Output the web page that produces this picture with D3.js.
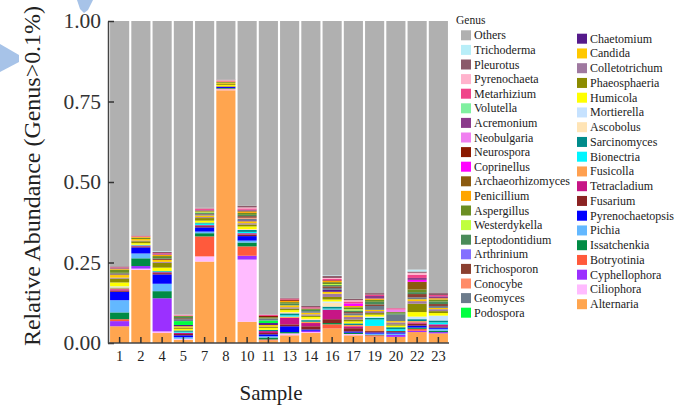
<!DOCTYPE html>
<html>
<head>
<meta charset="utf-8">
<script src="https://cdn.jsdelivr.net/npm/d3@7"></script>
<style>
body { margin: 0; background: #fff; }
</style>
</head>
<body>
<div id="chart"></div>
<script>
// sample ids on the x axis
var samples = ["1","2","4","5","7","8","10","11","13","14","16","17","19","20","22","23"];

// relative abundance per genus, one value per sample
var others            = [.762,.666,.715,.912,.580,.182,.574,.912,.860,.885,.790,.863,.845,.892,.772,.845];
var trichoderma       = [0,0,.002,0,0,0,0,0,0,0,.002,0,0,0,.006,0];
var pleurotus         = [.003,.002,.004,0,.002,.002,.005,0,.002,.004,.006,.004,.005,0,.004,.006];
var pyrenochaeta      = [0,0,0,.002,.002,.002,.003,0,0,0,.003,.004,0,0,.006,0];
var metarhizium       = [.002,.002,.003,.002,.003,.002,.004,.004,.003,.004,.004,.006,.004,.004,.010,.004];
var volutella         = [0,0,0,0,0,0,0,0,0,0,0,0,0,0,0,0];
var acremonium        = [.002,0,.002,0,.002,0,.003,0,0,0,0,0,.008,0,.006,.006];
var neobulgaria       = [0,0,0,0,0,0,0,0,0,0,0,0,0,.008,0,0];
var neurospora        = [0,0,0,0,0,0,0,.004,.004,0,.002,0,0,0,0,0];
var coprinellus       = [0,0,0,0,0,0,0,0,0,0,0,.008,0,0,.006,0];
var archaeorhizomyces = [0,0,0,0,0,0,.003,0,0,0,0,0,0,0,.024,0];
var penicillium       = [.003,.003,.004,0,.002,.002,.004,0,.004,0,.004,.004,.004,0,0,.004];
var aspergillus       = [.010,.004,.006,.003,.003,.003,.006,.004,.005,.004,.006,.006,.006,.004,.008,.006];
var westerdykella     = [0,0,0,0,.002,0,0,0,0,0,.003,.004,0,0,0,0];
var leptodontidium    = [.002,0,.002,.004,.003,0,.004,0,.005,.004,.004,.005,.008,.004,.006,.008];
var arthrinium        = [0,0,0,0,0,0,0,0,0,0,0,0,0,0,0,0];
var trichosporon      = [.003,0,.004,.003,.002,0,.005,0,0,0,.005,.004,.005,0,.010,.006];
var conocybe          = [0,0,0,0,0,0,.003,0,0,0,0,0,0,0,0,0];
var geomyces          = [.002,0,0,.006,.003,0,.005,.006,0,.005,.006,.006,.012,.020,.006,.006];
var podospora         = [0,0,0,.012,0,0,0,.008,0,0,0,0,0,0,0,0];
var chaetomium        = [0,0,0,.004,0,0,.003,.006,0,0,.006,0,0,0,0,0];
var candida           = [.008,.005,.006,.004,.005,.003,.006,.005,.006,.005,.006,.005,.004,.004,.006,.004];
var colletotrichum    = [.003,.002,.003,0,.003,0,.004,0,.004,.004,.010,.008,.006,.006,.008,.006];
var phaeosphaeria     = [.012,.006,.015,.004,.008,.003,.006,.004,.005,.004,.008,.006,.005,.004,.026,.006];
var humicola          = [.012,.005,.010,.005,.006,.004,.008,.006,.006,.006,.006,.006,.006,.005,.014,.008];
var mortierella       = [.002,0,0,0,0,0,0,0,0,0,.004,0,.004,0,.008,.015];
var ascobolus         = [.002,0,0,0,0,0,.003,0,.004,.004,.012,0,0,0,0,0];
var sarcinomyces      = [.002,0,.002,.004,.003,0,.006,.004,.006,.005,.006,.005,.005,.006,.006,.006];
var bionectria        = [0,.002,.002,.003,.005,0,.004,0,.004,0,.003,0,.020,.006,0,.006];
var fusicolla         = [.003,0,0,0,0,0,0,0,.004,.004,0,.004,.016,0,.004,0];
var tetracladium      = [.004,.003,.003,.004,.003,0,.004,.006,.020,.010,.030,.006,0,0,.004,.006];
var fusarium          = [.004,.003,.004,.004,.004,.002,.005,.004,.006,.010,.012,.010,.004,.004,.006,.004];
var pyrenochaetopsis  = [.026,.019,.029,.006,.013,.003,.014,.006,.018,.004,0,.004,.004,.004,.006,.004];
var pichia            = [.038,.015,.023,.005,.005,0,.006,.004,0,0,0,0,.004,.004,0,.006];
var issatchenkia      = [.021,.024,.022,0,.010,.002,.012,.006,.004,0,.004,.004,.001,0,.004,.004];
var botryotinia       = [.006,0,0,0,.062,.002,.029,.003,0,0,.013,0,.004,0,.006,0];
var cyphellophora     = [.016,.008,.103,0,0,0,.012,0,0,.004,0,0,0,.006,.004,.004];
var ciliophora        = [0,.004,.005,.003,.016,.003,.193,0,.006,.003,0,.004,0,0,0,0];
var alternaria        = [.052,.227,.031,.010,.253,.785,.066,.008,.024,.031,.045,.024,.020,.019,.034,.030];

// legend order (top of the stack first)
var genera = ["Others","Trichoderma","Pleurotus","Pyrenochaeta","Metarhizium","Volutella",
  "Acremonium","Neobulgaria","Neurospora","Coprinellus","Archaeorhizomyces","Penicillium",
  "Aspergillus","Westerdykella","Leptodontidium","Arthrinium","Trichosporon","Conocybe",
  "Geomyces","Podospora","Chaetomium","Candida","Colletotrichum","Phaeosphaeria","Humicola",
  "Mortierella","Ascobolus","Sarcinomyces","Bionectria","Fusicolla","Tetracladium","Fusarium",
  "Pyrenochaetopsis","Pichia","Issatchenkia","Botryotinia","Cyphellophora","Ciliophora","Alternaria"];

var colors = ["#b0b0b0","#b8eef8","#8b5a6a","#ffb3cc","#f0458a","#80f0a0",
  "#8b3a8b","#f080f0","#8b1a00","#ff00ff","#8b5a10","#ffa500",
  "#6b8e23","#c0ff3e","#4a8b5a","#8470ff","#8b4030","#ff8c69",
  "#6c7b8b","#00ff40","#551a8b","#ffc800","#9f79a0","#8b8b00","#ffff00",
  "#c6e2ff","#ffe4b5","#008b8b","#00f5ff","#ffa050","#c71585","#8b2323",
  "#0000ff","#63b8ff","#008b45","#ff5a3c","#9b30ff","#ffbbff","#ffa54f"];

var series = [others,trichoderma,pleurotus,pyrenochaeta,metarhizium,volutella,
  acremonium,neobulgaria,neurospora,coprinellus,archaeorhizomyces,penicillium,
  aspergillus,westerdykella,leptodontidium,arthrinium,trichosporon,conocybe,
  geomyces,podospora,chaetomium,candida,colletotrichum,phaeosphaeria,humicola,
  mortierella,ascobolus,sarcinomyces,bionectria,fusicolla,tetracladium,fusarium,
  pyrenochaetopsis,pichia,issatchenkia,botryotinia,cyphellophora,ciliophora,alternaria];

var yTicks = [0, 0.25, 0.5, 0.75, 1];

var w = 675, h = 407;
var serif = "'Liberation Serif','Times New Roman',serif";

var svg = d3.select("#chart").append("svg")
  .attr("width", w).attr("height", h)
  .style("background", "#fff");

// little blue marks in the corner of the scan
svg.append("path").attr("d", "M0,44 L19,55 L19,62 L0,72 Z").attr("fill", "#a7c3e8");
svg.append("path").attr("d", "M77,0 L93,0 L88,10 L84,13 L80,9 Z").attr("fill", "#a7c3e8");

var colorOf = {};
genera.forEach((g, i) => colorOf[g] = colors[i]);

var rows = samples.map((s, i) => {
  var r = {sample: s};
  genera.forEach((g, j) => r[g] = series[j][i]);
  return r;
});

var keys = genera.slice().reverse();   // Alternaria at the bottom
var stacked = d3.stack().keys(keys)(rows);

var x = d3.scaleBand().domain(samples).range([109, 449])
  .paddingInner(0.1).paddingOuter(0.05);
var y = d3.scaleLinear().domain([0, 1]).range([343, 21]);

var g = svg.append("g");
g.selectAll("g.layer")
  .data(stacked)
  .enter().append("g")
  .attr("class", "layer")
  .attr("fill", d => colorOf[d.key])
  .selectAll("rect")
  .data(d => d)
  .enter().append("rect")
  .attr("x", d => x(d.data.sample))
  .attr("width", x.bandwidth())
  .attr("y", d => y(Math.min(1, d[1])))
  .attr("height", d => Math.max(0, y(d[0]) - y(Math.min(1, d[1]))));

// axes: ticks point into the plot
var yAxis = d3.axisLeft(y).tickValues(yTicks).tickFormat(d3.format(".2f"))
  .tickSizeInner(-6).tickSizeOuter(0).tickPadding(8);
var gy = svg.append("g").attr("transform", "translate(108,0)").call(yAxis);
gy.select(".domain").attr("stroke", "#444").attr("stroke-width", 1.5);
gy.selectAll(".tick line").attr("stroke", "#333").attr("stroke-width", 1.5);
gy.selectAll("text").attr("font-family", serif).attr("font-size", 21.5)
  .attr("fill", "#333").attr("x", -7);

var xAxis = d3.axisBottom(x).tickSizeInner(-6).tickSizeOuter(0).tickPadding(8);
var gx = svg.append("g").attr("transform", "translate(0,343)").call(xAxis);
gx.select(".domain").attr("stroke", "#444").attr("stroke-width", 1.5)
  .attr("d", "M108,0H449");
gx.selectAll(".tick line").attr("stroke", "#333").attr("stroke-width", 1.5);
gx.selectAll("text").attr("font-family", serif).attr("font-size", 14.5).attr("fill", "#222");

svg.append("text")
  .attr("x", 271).attr("y", 400)
  .attr("text-anchor", "middle")
  .attr("font-family", serif).attr("font-size", 21).attr("fill", "#222")
  .text("Sample");

svg.append("text")
  .attr("transform", "translate(40,176) rotate(-90)")
  .attr("text-anchor", "middle")
  .attr("font-family", serif).attr("font-size", 23).attr("fill", "#222")
  .attr("textLength", 340).attr("lengthAdjust", "spacingAndGlyphs")
  .text("Relative Abundance (Genus>0.1%)");

// legend, two columns
var leg = svg.append("g").attr("font-family", serif).attr("font-size", 12);
leg.append("text").attr("x", 456).attr("y", 24).attr("font-size", 11.5)
  .attr("fill", "#222").text("Genus");

var items = leg.selectAll("g.item")
  .data(genera)
  .enter().append("g")
  .attr("class", "item")
  .attr("transform", (d, i) => i < 20
    ? "translate(461," + (35.3 + i * 14.6) + ")"
    : "translate(577," + (38.7 + (i - 20) * 14.75) + ")");

items.append("rect")
  .attr("x", 0).attr("y", -5).attr("width", 10).attr("height", 10)
  .attr("fill", d => colorOf[d]);
items.append("text")
  .attr("x", 13).attr("y", 4)
  .attr("fill", "#222")
  .text(d => d);
</script>
</body>
</html>
